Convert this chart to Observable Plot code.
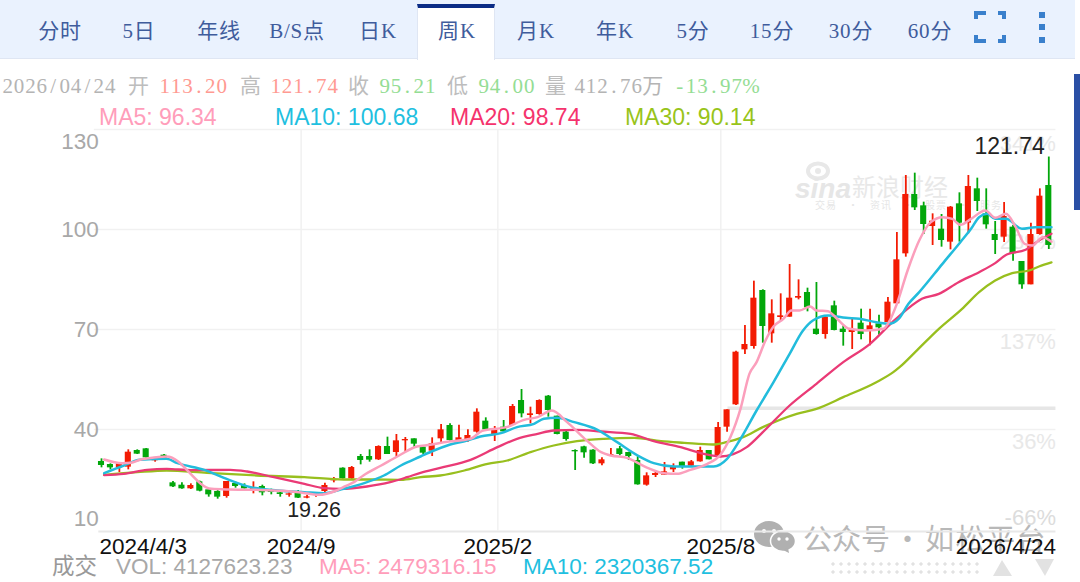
<!DOCTYPE html>
<html lang="zh">
<head>
<meta charset="utf-8">
<script src="https://cdn.jsdelivr.net/npm/d3@7"></script>
<script src="https://cdn.jsdelivr.net/npm/@observablehq/plot@0.6"></script>
<style>
html,body{margin:0;padding:0;background:#fff;width:1080px;height:582px;overflow:hidden}
#page{position:relative;width:1080px;height:582px;overflow:hidden;font-family:"Liberation Sans",sans-serif}
.a{position:absolute;white-space:nowrap;line-height:1}
#tabs{position:absolute;left:0;top:0;width:1075px;height:59px;background:#eaf2fe;border-bottom:1px solid #dfe6f3;box-sizing:border-box}
#active{position:absolute;left:417px;top:4px;width:78px;height:56px;background:#fff;border-top:4px solid #0b2c86;border-left:1px solid #dfe6f3;border-right:1px solid #dfe6f3;box-sizing:border-box}
.tab{position:absolute;top:21px;transform:translateX(-50%);font:21px/1 "Liberation Serif","Noto Sans CJK SC",serif;letter-spacing:.8px;color:#3f5c9c;white-space:nowrap}
.info{top:76px;font:21px/1 "Liberation Serif","Noto Sans CJK SC",serif}
.info span{display:inline-block;text-align:center}
.ma{top:106px;font:23px/1 "Liberation Sans",sans-serif}
.foot{top:556px;font:22.5px/1 "Liberation Sans","Noto Sans CJK SC",sans-serif}
.wm{font-family:"Noto Sans CJK SC";color:#b8b8b8;line-height:1}
#chart{position:absolute;left:0;top:122px;z-index:2}
#chart svg{background:transparent;overflow:visible;display:block}
</style>
</head>
<body>
<div id="page">
  <div id="tabs"></div><div id="active"></div>
  <div id="tabLabels"></div>
  <svg class="a" style="left:970px;top:7px" width="80" height="38">
    <g fill="none" stroke="#3a80cc" stroke-width="4">
      <path d="M6 12V6H16M28 6H34V12M34 28V34H28M16 34H6V28"/>
    </g>
    <g fill="#3a80cc"><rect x="69" y="5" width="6" height="6"/><rect x="69" y="17" width="6" height="6"/><rect x="69" y="30" width="6" height="6"/></g>
  </svg>
  <div id="infoLine"></div>
  <div id="maLine"></div>
  <div class="a" style="left:1074px;top:74px;width:6px;height:136px;background:#2a4fa5"></div>

  <!-- watermarks, under the chart -->
  <svg class="a" style="left:795px;top:160px" width="40" height="22">
    <ellipse cx="23" cy="11" rx="10" ry="7.5" fill="none" stroke="#e8e8e8" stroke-width="4"/>
    <circle cx="23" cy="11" r="3" fill="#e8e8e8"/>
  </svg>
  <div class="a" style="left:795px;top:175px;font:italic bold 28px/1 'Liberation Sans';color:#e6e6e6">sina</div>
  <div class="a wm" style="left:852px;top:174px;font-size:24px;color:#e8e8e8">新浪财经</div>
  <div class="a wm" style="left:815px;top:200px;font-size:10px;color:#e6e6e6;letter-spacing:1px">交易　·　资讯　·　股票　·　服务</div>
  <svg class="a" style="left:750px;top:518px" width="50" height="40">
    <ellipse cx="19" cy="16" rx="15" ry="13" fill="#b0b0b0"/>
    <circle cx="14" cy="13" r="2" fill="#fff"/><circle cx="24" cy="13" r="2" fill="#fff"/>
    <ellipse cx="33" cy="23" rx="12.5" ry="10.5" fill="#b0b0b0" stroke="#fff" stroke-width="1.5"/>
    <circle cx="29" cy="21" r="1.7" fill="#fff"/><circle cx="37" cy="21" r="1.7" fill="#fff"/>
    <path d="M33 32l6 3-1-5z" fill="#b0b0b0"/>
  </svg>
  <div class="a wm" style="left:803px;top:523px;font-size:29px">公众号</div>
  <div class="a wm" style="left:893px;top:523px;font-size:29px">·</div>
  <div class="a wm" style="left:925px;top:523px;font-size:29px;letter-spacing:1.5px">如松平台</div>
  <div class="a" style="left:829px;top:560px;width:150px;height:14px;background-image:radial-gradient(circle,#e2e2e2 1.5px,transparent 1.7px);background-size:8px 8px"></div>
  <svg class="a" style="left:990px;top:556px" width="66" height="22">
    <path d="M3 20L12 4L22 20Z" fill="#e2e2e2"/><path d="M45 3H64L55 20Z" fill="#e2e2e2"/>
  </svg>

  <div id="chart"></div>
  <div id="footLine"></div>
</div>
<script>
// Header texts
const tabNames = ["分时","5日","年线","B/S点","日K","周K","月K","年K","5分","15分","30分","60分"];
const tabCentres = [60,139,219,297,378,457,536,615,693,772,851,930];
const infoTexts = ["2026/04/24","开","113.20","高","121.74","收","95.21","低","94.00","量","412.76万","-13.97%"];
const infoLefts = [2,128,159,240,270,348,379,447,478,545,574,674];
const infoColors = ["#b4b4b4","#bdbdbd","#ff9a92","#bdbdbd","#ff9a92","#bdbdbd","#94dd94","#bdbdbd","#94dd94","#bdbdbd","#b4b4b4","#94dd94"];
const maTexts = ["MA5: 96.34","MA10: 100.68","MA20: 98.74","MA30: 90.14"];
const maLefts = [99,275,450,625];
const maColors = ["#ff9dba","#1fc0e0","#f5336d","#98c41a"];
const footTexts = ["成交","VOL: 4127623.23","MA5: 2479316.15","MA10: 2320367.52"];
const footLefts = [52,116,319,523];
const footColors = ["#999999","#a8a8a8","#ff9dba","#1fc0e0"];

// Weekly candles (index 0 = 2024/4/3, index 106 = 2026/4/24)
const direction = "ggrrggrgggrgggrggrgggrgrrrrgrggrgrrggrrgrrrgrgrgrrggggggrrgggrrrrgrrgrrrrrgrrrrggrggrgrgrrrggrgrgrgggrggrrg";
const bodyTop = [30.4,29.5,29.7,33.2,33.7,34.2,31.0,32.3,24.0,23.3,23.2,24.3,21.9,21.4,24.4,23.8,23.2,22.5,22.9,21.7,21.0,20.7,20.9,19.8,20.7,23.2,25.1,28.4,28.6,31.9,31.9,34.9,34.9,36.6,37.0,37.2,
 34.7,35.7,39.9,41.2,37.5,38.2,45.2,42.5,40.2,40.7,46.9,48.7,44.7,48.7,50.0,44.0,39.2,33.7,34.8,33.8,30.9,32.5,34.2,33.1,30.7,26.1,26.8,27.3,28.9,30.2,30.3,33.7,33.7,40.6,45.9,
 63.2,65.5,79.4,81.7,74.7,74.1,79.4,79.9,81.1,70.1,73.7,77.1,70.1,70.0,71.9,71.1,71.7,78.2,90.9,
 110.5,110.5,107.1,102.5,100.1,106.7,107.7,112.9,112.2,104.7,98.5,103.9,100.7,90.4,98.5,110.0,113.2];
const bodyBottom = [29.2,28.5,28.5,28.7,32.6,31.5,30.7,30.9,22.8,22.2,22.2,21.5,20.4,19.7,19.9,22.9,22.2,21.9,21.0,21.1,20.5,20.4,19.4,19.5,20.2,21.4,24.6,25.2,25.2,30.7,30.8,30.9,32.5,33.1,36.6,35.6,
 32.9,33.5,37.2,36.7,36.7,36.9,39.2,39.9,38.5,39.3,41.2,44.7,44.2,44.5,45.7,38.5,37.0,33.4,33.0,29.7,29.7,32.1,32.5,31.9,23.4,23.3,26.2,26.3,27.9,28.9,29.0,30.3,30.9,31.7,40.7,
 47.4,63.9,64.9,70.9,68.7,73.6,73.7,79.4,76.5,68.5,68.5,69.7,69.1,69.1,68.5,69.5,70.5,72.1,77.7,
 92.7,106.5,101.5,100.9,96.7,96.2,101.9,101.9,108.4,101.4,96.7,97.7,92.7,83.4,83.4,98.5,95.21];
const wickHigh = [31.2,29.7,29.9,33.9,33.9,34.3,31.4,32.5,24.4,24.0,23.7,24.5,22.1,21.7,24.4,24.2,23.7,24.3,23.3,22.1,21.7,21.3,21.7,20.3,20.9,23.9,25.6,28.5,28.9,32.5,33.9,35.1,37.7,38.5,37.6,37.2,
 34.7,37.5,41.5,41.7,41.3,39.9,46.2,43.5,40.9,42.7,47.5,52.0,46.7,48.9,50.2,44.0,39.7,33.9,35.0,33.9,31.5,34.3,34.9,33.2,31.9,27.0,27.5,30.1,29.7,30.2,30.7,34.7,33.7,42.1,45.9,
 63.5,71.2,84.5,81.9,78.9,80.7,89.5,84.9,82.4,84.1,74.2,78.5,71.1,73.2,76.1,76.1,74.3,79.6,99.1,
 116.2,116.9,108.2,104.7,104.5,106.9,111.0,116.2,115.4,112.2,102.4,108.1,101.2,90.4,101.9,112.2,121.74];
const wickLow = [28.5,27.9,27.1,27.9,32.5,31.4,30.2,30.7,22.6,22.1,22.0,21.3,19.7,19.1,19.4,22.4,22.1,20.7,20.1,20.4,19.7,19.7,19.3,19.26,19.7,20.7,24.0,25.1,25.0,29.4,30.2,30.7,32.5,31.7,33.2,34.4,
 32.5,31.9,35.5,36.2,36.2,36.2,38.9,39.9,36.4,39.2,41.2,43.5,41.7,44.3,43.7,38.4,36.5,27.7,31.4,29.5,29.1,31.9,32.1,30.7,23.3,23.0,25.6,26.2,27.1,28.1,28.7,30.2,30.9,31.4,39.2,
 47.2,62.5,64.1,65.9,65.9,72.5,73.7,78.9,75.3,68.3,67.1,69.6,65.0,64.0,66.9,65.1,68.3,71.9,77.5,
 91.7,105.7,98.5,95.2,94.7,93.9,96.2,98.7,105.4,100.1,92.5,96.1,90.5,82.1,83.4,98.3,94.0];

// Moving averages as [week index, value]
const ma5 = [[0,31.0],[2,29.9],[3,30.0],[4,30.9],[5,31.4],[7,31.9],[12,22.2],[14,22.0],[17,21.9],[20,21.6],[22,21.1],[24,20.4],[26,21.7],[27,23.0],[28,24.3],[29,26.2],[31,29.2],[33,32.2],[35,34.9],[36.5,35.4],[38,36.2],[41,37.2],[42.3,39.6],[45,40.7],[47,42.9],[48.5,43.7],[50.1,45.7],[51.8,42.2],[54,36.7],[55.6,33.2],[56.7,32.2],[58.5,31.5],[60.8,28.5],[62.6,26.9],[64.1,26.7],[65.6,27.9],[67.5,29.7],[69,32.6],[70.1,37.9],[71.2,46.2],[72.2,56.7],[73,60.2],[74,66.7],[74.9,70.9],[76,73.2],[76.9,75.7],[77.8,75.7],[79,76.9],[79.7,75.7],[81,75.5],[82,73.2],[83.4,70.2],[85.3,69.7],[87.2,70.2],[87.8,72.2],[88.7,77.7],[89.9,87.7],[91.2,96.7],[92.5,102.2],[93.8,103.7],[94.9,103.2],[95.8,101.4],[97,103.2],[98.6,105.7],[99.7,103.5],[100.9,104.7],[102,100.7],[103,95.7],[103.9,95.2],[105,97.7],[106,96.34]];
const ma10 = [[0,26.9],[2.2,29.2],[4,30.9],[7,31.2],[8.2,29.9],[11.2,27.9],[13.4,25.5],[16.4,22.7],[19.4,21.7],[22.4,21.2],[24.6,20.9],[26.8,22.2],[29.1,23.9],[31.3,26.2],[33.2,29.2],[35.4,31.9],[36.9,33.7],[38.4,35.2],[40.6,36.7],[42.1,37.9],[44.4,38.9],[46.2,40.7],[48.1,41.7],[49.2,43.2],[50.7,43.5],[52.6,42.2],[55.2,39.9],[57.4,36.2],[59.7,32.2],[61.5,29.9],[63.8,28.9],[66,28.9],[68.2,28.9],[69.7,31.2],[71.1,36.7],[73,45.7],[74.9,54.2],[76.7,62.7],[78.2,69.7],[79.3,72.7],[81,74.2],[83,73.5],[84.5,73.2],[86.4,72.2],[87.8,71.7],[88.9,73.2],[90,77.7],[91.2,81.2],[93.8,89.7],[95.8,96.2],[97,100.2],[97.9,103.7],[98.8,104.7],[99.7,103.2],[100.9,103.2],[102.7,100.2],[104.2,100.7],[106,100.68]];
const ma20 = [[0,26.3],[2.2,26.7],[4.8,27.9],[7,28.2],[9.7,27.8],[14.1,27.9],[16,27.4],[19,25.7],[22.4,23.7],[24.6,22.4],[26.5,22.2],[29.4,22.9],[32,24.2],[33.9,25.7],[35.4,27.0],[37.6,28.5],[41,30.9],[44,34.7],[46.2,37.2],[48.5,38.7],[50.3,39.7],[52.9,39.9],[55.6,39.4],[58.9,38.7],[61.5,36.5],[64.5,34.7],[67.1,32.7],[69,31.9],[70.4,32.6],[71.9,34.7],[73.7,39.2],[76.7,47.2],[79.7,53.7],[82.7,60.2],[85.7,65.7],[88.2,72.2],[89.9,76.2],[91.5,79.2],[93.4,80.7],[95.6,84.2],[97.9,87.2],[99.7,89.9],[101,92.5],[103.1,93.9],[104.6,96.7],[106,98.74]];
const ma30 = [[0,26.4],[3.7,27.2],[7,27.7],[11.5,27.0],[17.1,26.2],[22.4,25.7],[26.8,25.0],[30.2,25.0],[33.2,24.9],[35.4,25.7],[37.6,26.2],[40.3,27.7],[42.9,29.7],[45.1,30.7],[47.7,33.2],[50.3,35.2],[52.9,36.5],[55.9,37.2],[59.3,37.5],[62.3,36.5],[64.9,36.0],[68.1,35.5],[69.6,36.2],[71.5,37.7],[73.7,40.7],[77.5,44.7],[79.7,46.2],[82.7,49.7],[86.4,54.2],[88.3,57.2],[89,58.7],[91,63.9],[93.4,70.2],[96,76.2],[97.9,81.2],[99.7,84.7],[101.6,86.9],[103.5,87.7],[104.6,88.9],[106,90.14]];
const maLineOffset = 0.3;

// Axes
const priceTicks = [130,100,70,40,10];
const percentLabels = ["341%","239%","137%","36%","-66%"];
const dateTicks = [22.34,44.35,69.3];
const dateLabels = ["2024/9","2025/2","2025/8"];
const firstDate = "2024/4/3";
const lastDate = "2026/4/24";
const highMark = {week:106,value:121.74};
const lowMark = {week:23,value:19.26};
const currentLevel = 46.4;

// HTML text rows
const put = (id,texts,lefts,colors,cls)=>{
  const host=document.getElementById(id);
  texts.forEach((t,i)=>{const d=document.createElement("div");d.className="a "+cls;d.style.left=lefts[i]+"px";d.style.color=colors[i];d.textContent=t;host.appendChild(d);});
};
put("infoLine",infoTexts,infoLefts,infoColors,"info");
put("maLine",maTexts,maLefts,maColors,"ma");
put("footLine",footTexts,footLefts,footColors,"foot");
// The reference's info row is monospaced: give every ASCII character the same cell
document.querySelectorAll("#infoLine .info").forEach(d=>{
  const chars=[...d.textContent]; d.textContent="";
  chars.forEach(c=>{const s=document.createElement("span");s.textContent=c;
    s.style.width=c.charCodeAt(0)<128?"11.4px":"21px";d.appendChild(s);});
});
const tabHost=document.getElementById("tabLabels");
tabNames.forEach((t,i)=>{const d=document.createElement("div");d.className="tab";d.style.left=tabCentres[i]+"px";d.textContent=t;tabHost.appendChild(d);});

// Chart
const candles = bodyTop.map((t,i)=>({i,top:t,bottom:Math.abs(t-bodyBottom[i])<0.4?t-0.4:bodyBottom[i],high:wickHigh[i],low:wickLow[i],up:direction[i]==="r"}));
const pct = priceTicks.map((v,i)=>({v,label:percentLabels[i]}));
const labelFont = {fontFamily:"Liberation Sans"};
const leftEdge=-0.3, rightEdge=106.8, candleHalf=0.34;
const maLine=(arr,c,w)=>Plot.line(arr,{x:d=>d[0]+maLineOffset,y:d=>d[1],stroke:c,strokeWidth:w,curve:"monotone-x"});

const chart = Plot.plot({
  width:1080,height:436,
  marginLeft:0,marginRight:0,marginTop:0,marginBottom:0,
  x:{type:"linear",domain:[0,106],range:[101,1048.3],axis:null},
  y:{type:"linear",domain:[10,130],range:[407,7],axis:null},
  marks:[
    // grid
    Plot.ruleY([130,100,70,40],{x1:leftEdge-0.5,x2:rightEdge,stroke:"#f1f1f1",strokeWidth:1.5}),
    Plot.ruleY([9.4],{x1:leftEdge,x2:rightEdge,stroke:"#e8e8e8",strokeWidth:2}),
    Plot.ruleX(dateTicks,{y1:130,y2:9.4,stroke:"#f1f1f1",strokeWidth:1.5}),
    Plot.ruleY([currentLevel],{x1:70.1,x2:rightEdge,stroke:"#e6e6e6",strokeWidth:3.5}),
    // percent labels
    Plot.text(pct.filter(d=>d.v===130),{x:rightEdge,y:"v",text:"label",textAnchor:"end",dy:14,fontSize:22,fill:"#e8e8e8",...labelFont}),
    Plot.text(pct.filter(d=>d.v<130&&d.v>10),{x:rightEdge,y:"v",text:"label",textAnchor:"end",dy:12,fontSize:22,fill:"#e8e8e8",...labelFont}),
    Plot.text(pct.filter(d=>d.v===10),{x:rightEdge,y:"v",text:"label",textAnchor:"end",dy:-12,fontSize:22,fill:"#dcdcdc",...labelFont}),
    // price labels
    Plot.text([130],{x:leftEdge,y:d=>d,text:d=>`${d}`,textAnchor:"end",dy:12,fontSize:22.5,fill:"#a8a8a8",...labelFont}),
    Plot.text([100,70,40],{x:leftEdge,y:d=>d,text:d=>`${d}`,textAnchor:"end",fontSize:22.5,fill:"#a8a8a8",...labelFont}),
    Plot.text([10],{x:leftEdge,y:d=>d,text:d=>`${d}`,textAnchor:"end",dy:-11,fontSize:22.5,fill:"#a8a8a8",...labelFont}),
    // date labels
    Plot.text([firstDate],{x:0,y:10,text:d=>d,textAnchor:"start",dx:-2,lineAnchor:"top",dy:9,fontSize:22.5,fill:"#111",...labelFont}),
    Plot.text(dateTicks,{x:d=>d,y:10,text:(d,i)=>dateLabels[i],textAnchor:"middle",lineAnchor:"top",dy:9,fontSize:22.5,fill:"#111",...labelFont}),
    Plot.text([lastDate],{x:rightEdge,y:10,text:d=>d,textAnchor:"end",lineAnchor:"top",dy:9,fontSize:22.5,fill:"#111",...labelFont}),
    // candles
    Plot.ruleX(candles,{x:"i",y1:"low",y2:"high",stroke:d=>d.up?"#f31b03":"#02a70b",strokeWidth:1.8}),
    Plot.rect(candles,{x1:d=>d.i-candleHalf,x2:d=>d.i+candleHalf,y1:"bottom",y2:"top",fill:d=>d.up?"#f31b03":"#02a70b"}),
    // moving averages
    maLine(ma30,"#98bf1e",2.3),
    maLine(ma20,"#ea3a76",2.3),
    maLine(ma10,"#22bcdc",2.5),
    maLine(ma5,"#fb9fbc",2.5),
    // high / low annotations
    Plot.text([highMark],{x:"week",y:"value",text:d=>d.value.toFixed(2),textAnchor:"end",lineAnchor:"bottom",dx:-4,dy:-3,fontSize:23,fill:"#222",...labelFont}),
    Plot.text([lowMark],{x:"week",y:"value",text:d=>d.value.toFixed(2),textAnchor:"middle",lineAnchor:"top",dx:7,dy:3,fontSize:21.5,fill:"#222",...labelFont})
  ]
});
chart.style.background="transparent";
document.getElementById("chart").appendChild(chart);
</script>
</body>
</html>
